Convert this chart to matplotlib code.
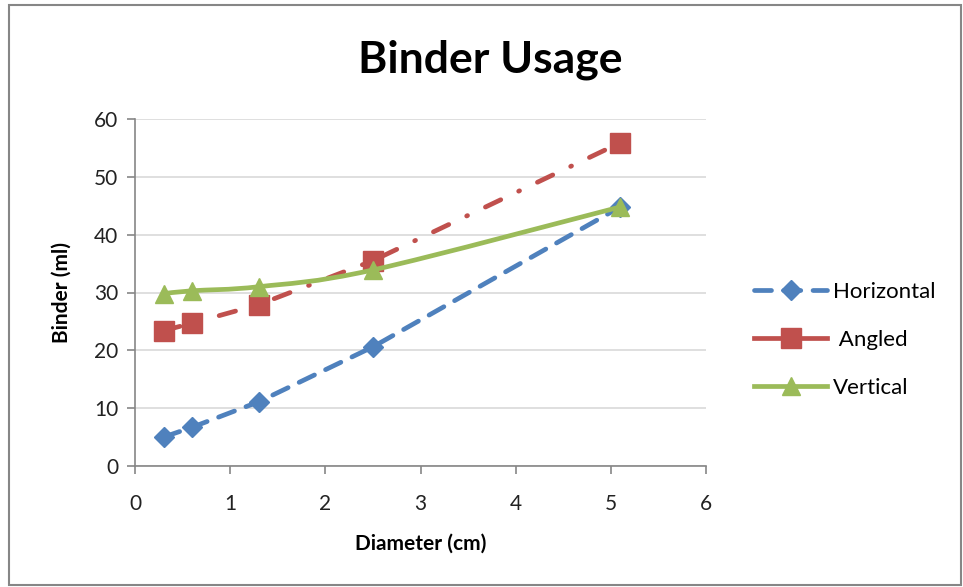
import numpy as np
import matplotlib
matplotlib.use("Agg")
import matplotlib.pyplot as plt
from matplotlib.path import Path
from matplotlib.patches import PathPatch, Rectangle
from matplotlib.lines import Line2D

plt.rcParams['font.family'] = ['Lato', 'DejaVu Sans']

# data
diameter = [0.3, 0.6, 1.3, 2.5, 5.1]
horizontal = [5.0, 6.7, 11.1, 20.6, 44.8]
angled = [23.4, 24.7, 27.9, 35.5, 55.9]
vertical = [29.8, 30.3, 31.0, 33.9, 44.8]

blue = "#4F81BD"
red = "#C0504D"
green = "#9BBB59"


def smooth_path(xs, ys):
    """
    Excel style smoothed line: cubic bezier segments through the points.
    """
    pts = np.column_stack([xs, ys])
    n = len(pts)
    verts = [pts[0]]
    codes = [Path.MOVETO]
    for i in range(n - 1):
        p0 = pts[max(i - 1, 0)]
        p1 = pts[i]
        p2 = pts[i + 1]
        p3 = pts[min(i + 2, n - 1)]
        c1 = p1 + (p2 - p0) / 6.0
        c2 = p2 - (p3 - p1) / 6.0
        verts += [c1, c2, p2]
        codes += [Path.CURVE4] * 3
    return Path(verts, codes)


fig = plt.figure(figsize=(9.63, 5.87), dpi=100)
ax = fig.add_axes([135 / 963, 1 - 466 / 587, (706 - 135) / 963, (466 - 119) / 587])

# outer chart border
fig.patches.append(Rectangle((9 / 963, 2 / 587), 952 / 963, 580 / 587,
                             transform=fig.transFigure, fill=False,
                             edgecolor="#868686", linewidth=1.5))

lw = 3.4
ax.plot(diameter, horizontal, color=blue, linewidth=lw, linestyle=(0, (3.6, 2.6)),
        dash_capstyle="round",
        marker="D", markersize=10, markerfacecolor=blue, markeredgecolor=blue,
        label="Horizontal", zorder=3)
ax.plot(diameter, angled, color=red, linewidth=lw, linestyle=(0, (3.6, 4.2, 0.2, 4.2)),
        dash_capstyle="round",
        marker="s", markersize=14, markerfacecolor=red, markeredgecolor=red,
        label="Angled", zorder=3)
ax.add_patch(PathPatch(smooth_path(diameter, vertical), facecolor="none",
                       edgecolor=green, linewidth=lw, zorder=4))
ax.plot(diameter, vertical, linestyle="none", marker="^", markersize=13,
        markerfacecolor=green, markeredgecolor=green, zorder=5)

ax.set_xlim(0, 6)
ax.set_ylim(0, 60)
ax.set_xticks(range(0, 7))
ax.set_yticks(range(0, 61, 10))
ax.grid(axis="y", color="#D9D9D9", linewidth=1.2)
ax.set_axisbelow(True)
for side in ["top", "right"]:
    ax.spines[side].set_visible(False)
for side in ["left", "bottom"]:
    ax.spines[side].set_color("#868686")
    ax.spines[side].set_linewidth(1.2)
ax.tick_params(axis="both", direction="out", length=6, width=1.2, color="#868686",
               labelsize=15, labelcolor="#222222")
ax.tick_params(axis="y", pad=6)
ax.tick_params(axis="x", pad=14)

ax.set_xlabel("Diameter (cm)", fontsize=15, fontweight="bold", labelpad=14)
ax.set_ylabel("Binder (ml)", fontsize=15, fontweight="bold", labelpad=16)
fig.text(490 / 963, 1 - 60 / 587, "Binder Usage", fontsize=32, fontweight="bold",
         ha="center", va="center")

handles = [
    Line2D([], [], color=blue, linewidth=lw, linestyle=(0, (3.6, 2.6)), dash_capstyle="round",
           marker="D", markersize=10, label="Horizontal"),
    Line2D([], [], color=red, linewidth=lw, marker="s", markersize=14, label=" Angled"),
    Line2D([], [], color=green, linewidth=lw, marker="^", markersize=13, label="Vertical"),
]
fig.legend(handles=handles, loc="center left", bbox_to_anchor=(734 / 963, 1 - 340 / 587),
           frameon=False, fontsize=16, handlelength=3.3, handletextpad=0.25,
           labelspacing=1.25)

fig.savefig("out.png", dpi=100)
